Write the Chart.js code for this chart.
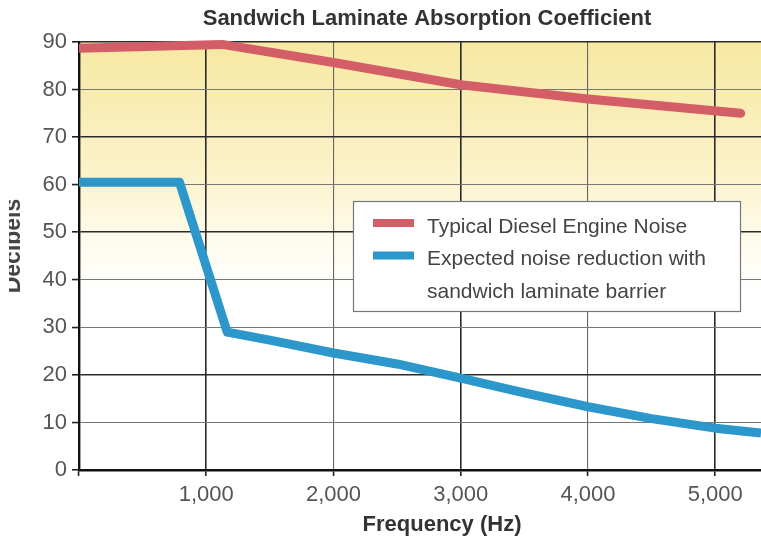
<!DOCTYPE html>
<html>
<head>
<meta charset="utf-8">
<script src="https://cdn.jsdelivr.net/npm/chart.js@4.4.1/dist/chart.umd.min.js"></script>
<style>
    html, body {margin: 0; padding: 0; background: #fff;}
    canvas {display: block;}
</style>
</head>
<body>
<canvas id="chart" width="761" height="544"></canvas>
<script>
// data
const dieselFreq = [0, 1125, 2000, 3000, 4000, 5200]
const dieselDb = [88.7, 89.5, 85.7, 81, 78, 75]

const barrierFreq = [0, 790, 1165, 1500, 2000, 2500, 3000, 3500, 4000, 4500, 5000, 5360]
const barrierDb = [60.5, 60.5, 29, 27.3, 24.6, 22.3, 19.3, 16.2, 13.3, 10.8, 8.8, 7.8]

const yTicks = [0, 10, 20, 30, 40, 50, 60, 70, 80, 90]
const xTicks = [0, 1000, 2000, 3000, 4000, 5000]

const chartTitle = 'Sandwich Laminate Absorption Coefficient'
const xTitle = 'Frequency (Hz)'
const yTitle = 'Decibels'
const dieselLabel = ['Typical Diesel Engine Noise']
const barrierLabel = ['Expected noise reduction with', 'sandwich laminate barrier']

const toPoints = (xs, ys) => xs.map((x, i) => ({x: x, y: ys[i]}))

const FONT = '"Liberation Sans", Arial, sans-serif'
const thickY = [0, 20, 50, 70, 90]
const thickX = [1000, 3000, 5000]

const backgroundPlugin = {
    id: 'bg',
    beforeDraw(chart) {
        const {ctx, chartArea: a} = chart
        const g = ctx.createLinearGradient(0, a.top, 0, a.bottom)
        g.addColorStop(0, '#f7e8a2')
        g.addColorStop(0.3, '#fbf2c8')
        g.addColorStop(0.45, '#fefbea')
        g.addColorStop(0.58, '#ffffff')
        ctx.save()
        ctx.fillStyle = g
        ctx.fillRect(a.left, a.top, a.right - a.left, a.bottom - a.top)
        ctx.restore()
    }
}

const textPlugin = {
    id: 'texts',
    afterDraw(chart) {
        const {ctx, chartArea: a} = chart
        ctx.save()
        ctx.fillStyle = '#333'
        ctx.textAlign = 'center'
        ctx.textBaseline = 'middle'
        ctx.font = 'bold 22px ' + FONT
        ctx.fillText(chartTitle, a.left + 348, 19)
        ctx.fillText(xTitle, a.left + 363, 525)

        // y title, partly cut off at the left edge like the scan
        ctx.beginPath()
        ctx.rect(9, 0, 40, 544)
        ctx.clip()
        ctx.translate(20, 246)
        ctx.rotate(-Math.PI / 2)
        ctx.textBaseline = 'alphabetic'
        ctx.fillStyle = '#444'
        ctx.font = 'bold 23px ' + FONT
        ctx.fillText(yTitle, 0, 0)
        ctx.restore()

        // legend box
        ctx.save()
        const bx = 353, by = 201, bw = 387, bh = 110
        ctx.fillStyle = '#fff'
        ctx.fillRect(bx, by, bw, bh)
        ctx.strokeStyle = '#777'
        ctx.lineWidth = 1.2
        ctx.strokeRect(bx + 0.5, by + 0.5, bw, bh)
        ctx.font = '21px ' + FONT
        ctx.fillStyle = '#444'
        ctx.textAlign = 'left'
        ctx.textBaseline = 'middle'
        let y = 227
        chart.data.datasets.forEach(ds => {
            ctx.fillStyle = ds.borderColor
            ctx.fillRect(373, y - 8, 41, 8)
            ctx.fillStyle = '#444'
            ds.label.forEach(line => {
                ctx.fillText(line, 427, y)
                y += 32.5
            })
        })
        ctx.restore()
    }
}

new Chart(document.getElementById('chart'), {
    type: 'line',
    data: {
        datasets: [
            {
                label: dieselLabel,
                data: toPoints(dieselFreq, dieselDb),
                borderColor: '#d45e68',
                borderWidth: 9,
                borderCapStyle: 'round',
                borderJoinStyle: 'round',
                pointRadius: 0,
                tension: 0,
                clip: {left: 0, right: 6, top: 6, bottom: 0},
            },
            {
                label: barrierLabel,
                data: toPoints(barrierFreq, barrierDb),
                borderColor: '#2b97ca',
                borderWidth: 9,
                borderJoinStyle: 'round',
                pointRadius: 0,
                tension: 0,
                clip: {left: 0, right: 0, top: 6, bottom: 0},
            }
        ]
    },
    options: {
        responsive: false,
        animation: false,
        devicePixelRatio: 1,
        layout: {padding: {top: 42, right: 0, bottom: 0, left: 0}},
        plugins: {
            legend: {display: false},
            title: {display: false},
            tooltip: {enabled: false},
        },
        scales: {
            x: {
                type: 'linear',
                min: 0,
                max: 5360,
                afterFit: (scale) => { scale.height = 74 },
                afterBuildTicks: (scale) => { scale.ticks = xTicks.map(v => ({value: v})) },
                ticks: {
                    color: '#555',
                    font: {family: FONT, size: 22},
                    padding: 6,
                    maxRotation: 0,
                    autoSkip: false,
                    callback: v => v === 0 ? '' : v.toLocaleString('en-US'),
                },
                grid: {
                    color: ctx => thickX.includes(ctx.tick && ctx.tick.value) ? '#2a2a2a' : '#666',
                    lineWidth: ctx => thickX.includes(ctx.tick && ctx.tick.value) ? 1.6 : 1.1,
                    tickLength: 6,
                    tickColor: '#222',
                    tickWidth: 1.6,
                },
                border: {display: true, color: '#111', width: 2.4},
            },
            y: {
                min: 0,
                max: 90,
                afterFit: (scale) => { scale.width = 79 },
                afterBuildTicks: (scale) => { scale.ticks = yTicks.map(v => ({value: v})) },
                ticks: {
                    color: '#555',
                    font: {family: FONT, size: 22},
                    padding: 5,
                    autoSkip: false,
                },
                grid: {
                    color: ctx => thickY.includes(ctx.tick && ctx.tick.value) ? '#2a2a2a' : '#777',
                    lineWidth: ctx => thickY.includes(ctx.tick && ctx.tick.value) ? 1.6 : 1.1,
                    tickLength: 7,
                    tickColor: '#222',
                    tickWidth: 1.6,
                },
                border: {display: true, color: '#111', width: 2.4},
            }
        }
    },
    plugins: [backgroundPlugin, textPlugin]
})
</script>
</body>
</html>
